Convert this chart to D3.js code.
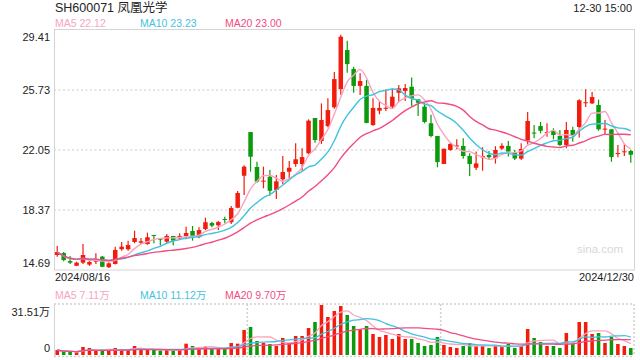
<!DOCTYPE html>
<html><head><meta charset="utf-8">
<script src="https://cdn.jsdelivr.net/npm/d3@7"></script>
<style>
html,body{margin:0;padding:0;background:#fff;}
svg{display:block;font-family:"Liberation Sans",Arial,"Noto Sans CJK SC",sans-serif;}
</style></head>
<body><svg id="c" width="640" height="360"></svg>
<script>
const dates = [
"08/16","08/19","08/20","08/21","08/22","08/23","08/26","08/27","08/28","08/29","08/30",
"09/02","09/03","09/04","09/05","09/06","09/09","09/10","09/11","09/12","09/13","09/18","09/19","09/20","09/23","09/24","09/25","09/26","09/27","09/30",
"10/08","10/09","10/10","10/11","10/14","10/15","10/16","10/17","10/18","10/21","10/22","10/23","10/24","10/25","10/28","10/29","10/30","10/31",
"11/01","11/04","11/05","11/06","11/07","11/08","11/11","11/12","11/13","11/14","11/15","11/18","11/19","11/20","11/21","11/22","11/25","11/26","11/27","11/28","11/29",
"12/02","12/03","12/04","12/05","12/06","12/09","12/10","12/11","12/12","12/13","12/16","12/17","12/18","12/19","12/20","12/23","12/24","12/25","12/26","12/27","12/30"];
const opens = [15.61,15.73,15.24,14.95,15.14,15.02,15.20,15.51,14.86,15.06,
15.96,15.96,16.41,16.36,16.28,16.84,16.61,16.43,16.78,16.63,
16.78,17.08,16.70,17.20,17.57,17.43,17.82,17.62,18.51,20.47,
23.15,21.01,20.11,20.41,19.60,20.25,20.72,21.19,21.19,21.85,
24.01,22.60,23.52,24.67,25.79,28.18,27.02,25.98,25.98,23.58,
24.46,24.58,24.71,25.56,25.67,25.93,25.16,24.71,23.69,22.91,
21.19,22.05,22.27,22.30,21.68,20.96,21.60,21.74,21.54,22.14,
22.30,21.88,21.52,22.64,23.12,23.52,23.11,23.23,22.91,22.36,
23.28,23.46,24.93,24.91,24.81,23.32,23.32,21.82,21.93,21.99];
const closes = [15.79,15.30,15.14,15.14,15.61,15.18,15.35,14.89,15.10,15.92,
16.12,16.22,16.65,16.45,16.70,16.79,16.57,16.78,16.49,16.78,
16.96,16.78,17.14,17.62,17.41,17.63,17.76,18.49,19.41,21.03,
21.64,20.11,20.17,19.55,20.13,20.70,20.96,21.48,21.62,23.85,
22.66,23.89,24.50,26.40,29.00,27.32,25.98,26.28,23.71,24.63,
24.63,24.64,25.32,25.83,25.85,25.22,24.95,23.77,22.91,21.31,
22.13,22.42,22.33,21.68,21.19,21.23,21.68,21.61,22.05,22.31,
21.95,21.53,22.11,23.83,23.08,23.23,23.15,22.97,22.36,23.28,
22.91,25.10,24.98,25.30,23.32,23.36,21.62,21.87,21.97,21.76];
const highs = [16.16,15.79,15.55,15.20,16.28,15.30,15.71,15.55,15.16,16.12,
16.41,16.49,17.10,16.65,16.98,16.84,16.65,16.90,16.78,16.94,
17.35,17.39,17.31,17.90,17.65,17.70,17.96,18.62,19.54,21.11,
23.15,21.33,21.03,20.82,20.52,21.68,21.38,22.46,22.15,23.93,
24.01,24.91,25.22,26.83,29.12,28.75,27.16,26.75,26.34,25.22,
25.01,25.77,25.82,26.04,26.10,26.50,25.16,24.95,24.21,22.91,
22.13,22.50,22.71,22.77,21.85,21.96,22.22,21.99,22.28,22.46,
22.60,22.05,22.46,24.38,23.58,23.77,23.69,23.38,23.28,23.77,
23.48,25.17,25.78,25.61,25.14,23.89,23.32,22.36,22.39,22.05];
const lows = [15.51,15.22,15.06,14.93,15.06,14.94,15.06,14.86,14.81,15.02,
15.87,15.87,16.33,16.28,16.24,16.33,16.20,16.33,16.20,16.53,
16.57,16.49,16.63,17.14,17.31,17.14,17.55,17.51,18.47,19.29,
20.72,20.04,19.70,19.25,19.04,19.96,20.31,21.03,20.78,21.80,
22.50,22.42,23.44,24.58,25.44,26.79,25.56,25.42,23.69,23.54,
24.24,24.44,24.63,24.99,25.06,24.75,24.14,23.69,22.83,20.99,
21.19,22.01,22.09,21.52,20.46,20.82,20.78,21.44,21.22,22.05,
21.65,21.44,21.44,22.39,22.77,23.07,22.87,22.71,22.30,22.15,
22.56,22.82,24.69,24.87,23.23,23.03,21.33,21.60,21.68,21.27];
// volume in 万 shares
const volumes = [3.15,1.89,1.89,1.68,5.04,4.41,2.73,2.73,2.73,4.41,
3.78,3.15,5.67,3.78,3.15,3.15,2.73,3.36,2.73,3.36,
7.14,5.67,4.20,5.25,3.78,4.20,3.78,7.56,7.14,15.76,
17.65,8.82,7.56,6.93,5.67,10.71,7.35,11.97,11.97,17.02,
20.80,31.51,23.95,27.73,30.88,25.21,18.28,16.18,18.28,13.23,
11.34,12.60,10.08,13.23,10.08,10.08,7.56,5.67,6.30,11.34,
6.30,5.04,4.41,5.67,7.56,5.67,5.67,4.41,5.67,5.04,
6.93,4.41,5.67,16.39,10.71,8.19,5.67,5.67,4.41,13.86,
7.56,20.80,20.80,13.23,13.86,7.56,11.34,6.93,5.67,4.41];
const priceTicks = [29.41,25.73,22.05,18.37,14.69];
const volTicks = [31.51,0];
const volTickLabels = ["31.51万","0"];
const title = "SH600071 凤凰光学";
const timeLabel = "12-30 15:00";
const dateLabels = ["2024/08/16","2024/12/30"];
const maPeriods = [5,10,20];
const maPriceLabels = ["MA5 22.12","MA10 23.23","MA20 23.00"];
const maVolLabels = ["MA5 7.11万","MA10 11.12万","MA20 9.70万"];

const UP = "#f21c0c", DOWN = "#0b9a0b";
const MA_COLORS = ["#f9a3c0","#3fc3df","#f24c82"];
const L = 54, R = 634, T = 30, B = 270, VT = 304, VB = 355;

const svg = d3.select("#c");
const x = d3.scaleBand().domain(d3.range(dates.length)).range([L, R]).padding(0);
const bw = x.bandwidth();
const cx = i => x(i) + bw / 2;
const y = d3.scaleLinear().domain([14.69, 29.41]).range([B, T]);
const yv = d3.scaleLinear().domain([0, 31.51]).range([VB, VT + 1]);

function ma(arr, n) {
  return arr.map((_, i) => d3.mean(arr.slice(Math.max(0, i - n + 1), i + 1)));
}

// title etc
svg.append("text").attr("x", 55).attr("y", 12).attr("font-size", 12.5).attr("fill", "#222").text(title);
svg.append("text").attr("x", 632).attr("y", 12).attr("text-anchor", "end").attr("font-size", 11).attr("fill", "#222").text(timeLabel);
const legX = [55, 140, 225];
maPriceLabels.forEach((t, k) => svg.append("text").attr("x", legX[k]).attr("y", 27).attr("font-size", 10.5).attr("fill", MA_COLORS[k]).text(t));
maVolLabels.forEach((t, k) => svg.append("text").attr("x", legX[k]).attr("y", 298.5).attr("font-size", 10.5).attr("fill", MA_COLORS[k]).text(t));

// grid
const grid = svg.append("g");
priceTicks.slice(1, -1).forEach(v => grid.append("line").attr("x1", L).attr("x2", R).attr("y1", y(v)).attr("y2", y(v))
  .attr("stroke", "#dcdcdc").attr("stroke-width", 1.5).attr("stroke-dasharray", "2,2.5"));
svg.append("rect").attr("x", L + 0.5).attr("y", T - 0.5).attr("width", R - L).attr("height", B - T + 0.5)
  .attr("fill", "none").attr("stroke", "#d4d4d4").attr("stroke-width", 1);

// price axis
const yAxis = d3.axisLeft(y).tickValues(priceTicks).tickSize(0).tickPadding(4).tickFormat(d3.format(".2f"));
const ga = svg.append("g").attr("transform", `translate(${L},0)`).call(yAxis);
ga.select(".domain").remove();
ga.selectAll("text").attr("font-size", 11).attr("fill", "#222").attr("font-family", "Liberation Sans, Arial, sans-serif")
  .attr("dy", (d, i) => i === 0 ? "0.95em" : (i === priceTicks.length - 1 ? "-0.3em" : "0.32em"));

// watermark
svg.append("text").attr("x", 623).attr("y", 253).attr("text-anchor", "end").attr("font-size", 11.5).attr("fill", "#d8d8d8").text("sina.com");

// candles
const g = svg.append("g");
const cw = bw * 0.7;
dates.forEach((d, i) => {
  const up = closes[i] >= opens[i];
  const col = up ? UP : DOWN;
  g.append("line").attr("x1", cx(i)).attr("x2", cx(i)).attr("y1", y(highs[i])).attr("y2", y(lows[i]))
    .attr("stroke", col).attr("stroke-width", 1.2);
  const top = y(Math.max(opens[i], closes[i])), bot = y(Math.min(opens[i], closes[i]));
  g.append("rect").attr("x", cx(i) - cw / 2).attr("y", top).attr("width", cw).attr("height", Math.max(1, bot - top)).attr("fill", col);
});

// price MAs
maPeriods.forEach((n, k) => {
  const m = ma(closes, n);
  svg.append("path").datum(m).attr("fill", "none").attr("stroke", MA_COLORS[k]).attr("stroke-width", 1.4)
    .attr("d", d3.line().x((v, i) => cx(i)).y(v => y(v)).curve(d3.curveMonotoneX));
});

// date labels
svg.append("text").attr("x", 55).attr("y", 281).attr("font-size", 11).attr("fill", "#222").text(dateLabels[0]);
svg.append("text").attr("x", 634).attr("y", 281).attr("text-anchor", "end").attr("font-size", 11).attr("fill", "#222").text(dateLabels[1]);

// volume panel frame
const vf = svg.append("g").attr("stroke", "#d0d0d0").attr("stroke-width", 1.5).attr("stroke-dasharray", "2,2");
vf.append("line").attr("x1", L).attr("x2", R).attr("y1", VT).attr("y2", VT);
vf.append("line").attr("x1", L).attr("x2", R).attr("y1", VB + 1.5).attr("y2", VB + 1.5);
vf.append("line").attr("x1", R).attr("x2", R).attr("y1", VT).attr("y2", VB + 1);
[1 / 3, 2 / 3].forEach(f => vf.append("line").attr("x1", L + (R - L) * f).attr("x2", L + (R - L) * f).attr("y1", VT).attr("y2", VB + 1));
svg.append("line").attr("x1", L + 0.5).attr("x2", L + 0.5).attr("y1", VT).attr("y2", VB + 2).attr("stroke", "#d4d4d4");

// volume axis
const va = svg.append("g").attr("transform", `translate(${L},0)`)
  .call(d3.axisLeft(yv).tickValues(volTicks).tickSize(0).tickPadding(4).tickFormat((d, i) => volTickLabels[i]));
va.select(".domain").remove();
va.selectAll("text").attr("font-size", 11).attr("fill", "#222").attr("font-family", "Liberation Sans, Arial, Noto Sans CJK SC, sans-serif")
  .attr("dy", (d, i) => i === 0 ? "0.95em" : "-0.3em");

// volume bars
const vw = bw * 0.55;
volumes.forEach((v, i) => {
  const up = closes[i] >= opens[i];
  svg.append("rect").attr("x", cx(i) - vw / 2).attr("y", yv(v)).attr("width", vw).attr("height", VB - yv(v))
    .attr("fill", up ? UP : DOWN);
});
maPeriods.forEach((n, k) => {
  const m = ma(volumes, n);
  svg.append("path").datum(m).attr("fill", "none").attr("stroke", MA_COLORS[k]).attr("stroke-width", 1.3)
    .attr("d", d3.line().x((v, i) => cx(i)).y(v => yv(v)).curve(d3.curveMonotoneX));
});
</script></body></html>
